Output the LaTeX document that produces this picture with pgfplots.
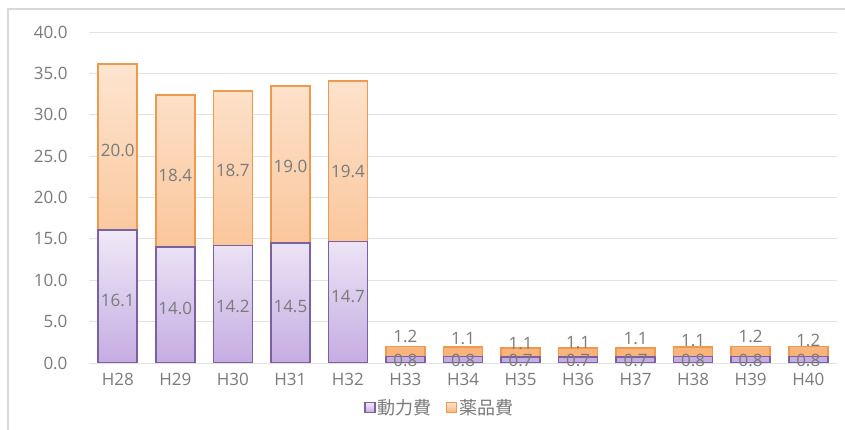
\documentclass[border=0pt]{standalone}
\usepackage{pgfplots}
\pgfplotsset{compat=1.18}
\usepackage{pgfplotstable}
\usepackage{fontspec}
\setmainfont{Open Sans}
\newfontfamily\cjk{Noto Sans CJK JP}

\definecolor{txt}{HTML}{7A7A7A}
\definecolor{gridc}{HTML}{E2E2E2}
\definecolor{framec}{HTML}{D9D9D9}
\definecolor{pTop}{HTML}{EFE9F7}
\definecolor{pBot}{HTML}{C5ACE2}
\definecolor{pEdge}{HTML}{7A62A0}
\definecolor{oTop}{HTML}{FDE5D0}
\definecolor{oBot}{HTML}{F9B37B}
\definecolor{oEdge}{HTML}{EE9A4E}

% yearly costs: power (動力費) and chemicals (薬品費)
\pgfplotstableread{
x power chem
0 16.1 20.0
1 14.0 18.4
2 14.2 18.7
3 14.5 19.0
4 14.7 19.4
5 0.8 1.2
6 0.8 1.1
7 0.7 1.1
8 0.7 1.1
9 0.7 1.1
10 0.8 1.1
11 0.8 1.2
12 0.8 1.2
}\costs

% where each value label sits
\pgfplotstableread{
x y label
0 7.6 16.1
1 6.6 14.0
2 6.8 14.2
3 6.8 14.5
4 8.0 14.7
5 0.25 0.8
6 0.25 0.8
7 0.25 0.7
8 0.25 0.7
9 0.25 0.7
10 0.25 0.8
11 0.25 0.8
12 0.25 0.8
0 25.7 20.0
1 22.7 18.4
2 23.3 18.7
3 23.7 19.0
4 23.1 19.4
5 3.2 1.2
6 2.9 1.1
7 2.4 1.1
8 2.5 1.1
9 2.9 1.1
10 2.7 1.1
11 3.2 1.2
12 2.7 1.2
}\labels

\pgfplotsset{
  frame geometry/.style={
    at={(89pt,67pt)}, anchor=south west,
    scale only axis, width=748pt, height=331pt,
    xmin=-0.5, xmax=12.5, ymin=0, ymax=40,
  },
  square legend/.style={
    legend image code/.code={\draw[##1, line width=1.5pt] (0pt,-5pt) rectangle (10pt,5pt);}
  },
}

\begin{document}
\begin{tikzpicture}[x=1pt,y=1pt]
\useasboundingbox (0,0) rectangle (845,430);
\draw[framec, line width=1.2pt] (8,0) -- (8,421) -- (845,421);

\begin{axis}[
  frame geometry,
  ybar stacked, bar width=39pt,
  xtick={0,...,12},
  xticklabels={H28,H29,H30,H31,H32,H33,H34,H35,H36,H37,H38,H39,H40},
  ytick={0,5,...,40},
  yticklabel style={/pgf/number format/fixed, /pgf/number format/fixed zerofill,
    /pgf/number format/precision=1},
  /pgf/number format/assume math mode=true,
  axis line style={draw=none},
  major tick length=0pt,
  ymajorgrids, grid style={gridc, line width=0.9pt},
  tick label style={font=\fontsize{17}{19}\selectfont, text=txt},
  yticklabel style={anchor=east, xshift=-18pt},
  xticklabel style={yshift=-7pt},
  legend style={at={(0.469,-0.135)}, anchor=center, draw=none, fill=none,
    legend columns=2, font=\cjk\fontsize{18}{20}\selectfont, text=txt,
    /tikz/every even column/.style={column sep=12pt}},
]
\addplot[square legend, draw=pEdge, line width=1.6pt, top color=pTop, bottom color=pBot]
  table[x=x, y=power] {\costs};
\addlegendentry{動力費}
\addplot[square legend, draw=oEdge, line width=1.6pt, top color=oTop, bottom color=oBot]
  table[x=x, y=chem] {\costs};
\addlegendentry{薬品費}
\end{axis}

\begin{axis}[
  frame geometry,
  hide axis, clip=false,
]
\addplot[draw=none, mark=none, nodes near coords, point meta=explicit symbolic,
  every node near coord/.style={anchor=center, inner sep=0pt,
    font=\fontsize{17}{19}\selectfont, text=txt}]
  table[x=x, y=y, meta=label] {\labels};
\end{axis}
\end{tikzpicture}
\end{document}
